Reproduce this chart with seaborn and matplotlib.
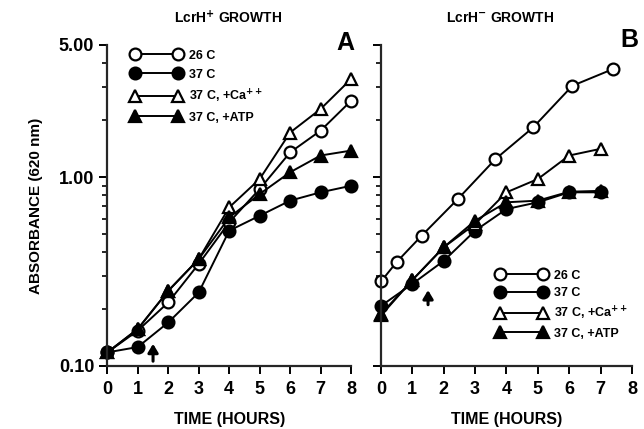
"""Curvas de crecimiento LcrH+ / LcrH- (absorbancia a 620 nm, escala log)."""

import matplotlib.pyplot as plt
from matplotlib.ticker import FixedLocator, NullFormatter
import seaborn as sns

# --- datos -----------------------------------------------------------------
hours_a = [0, 1, 2, 3, 4, 5, 6, 7, 8]
a_26c = [0.118, 0.154, 0.217, 0.347, 0.576, 0.864, 1.35, 1.76, 2.53]
a_37c = [0.118, 0.126, 0.170, 0.245, 0.520, 0.624, 0.750, 0.830, 0.899]
a_37c_ca = [0.118, 0.157, 0.250, 0.368, 0.691, 0.976, 1.72, 2.29, 3.30]
a_37c_atp = [0.118, 0.157, 0.250, 0.368, 0.611, 0.813, 1.06, 1.30, 1.38]

hours_b_26c = [0, 0.5, 1.3, 2.45, 3.65, 4.85, 6.1, 7.4]
b_26c = [0.280, 0.355, 0.490, 0.765, 1.245, 1.83, 3.04, 3.73]
hours_b = [0, 1, 2, 3, 4, 5, 6, 7]
b_37c = [0.208, 0.272, 0.360, 0.520, 0.677, 0.735, 0.830, 0.830]
b_37c_ca = [0.188, 0.285, 0.425, 0.564, 0.830, 0.976, 1.30, 1.41]
b_37c_atp = [0.185, 0.285, 0.425, 0.587, 0.735, 0.750, 0.836, 0.845]

series_labels = ["26 C", "37 C", "37 C, +Ca$^{++}$", "37 C, +ATP"]
y_ticks = [0.1, 1.0, 5.0]
y_ticklabels = ["0.10", "1.00", "5.00"]
y_minor = [0.2, 0.3, 0.4, 0.5, 0.6, 0.7, 0.8, 0.9, 2, 3, 4]
x_ticks = [0, 1, 2, 3, 4, 5, 6, 7, 8]
arrow_time = 1.5

# --- estilo ----------------------------------------------------------------
sns.set_theme(style="ticks")
plt.rcParams.update(
    {
        "font.family": ["Liberation Sans", "DejaVu Sans"],
        "font.weight": "bold",
        "axes.linewidth": 1.6,
        "axes.spines.top": False,
        "axes.spines.right": False,
        "xtick.major.width": 1.4,
        "ytick.major.width": 1.4,
        "ytick.minor.width": 1.2,
        "text.color": "black",
        "axes.labelcolor": "black",
        "xtick.color": "black",
        "ytick.color": "black",
        "mathtext.default": "bf",
    }
)

MARKERS = [
    dict(marker="o", markerfacecolor="white"),
    dict(marker="o", markerfacecolor="black"),
    dict(marker="^", markerfacecolor="white"),
    dict(marker="^", markerfacecolor="black"),
]


def draw_panel(ax, xs_list, ys_list):
    for xs, ys, style, label in zip(xs_list, ys_list, MARKERS, series_labels):
        size = 8.5 if style["marker"] == "o" else 9
        sns.lineplot(
            x=xs,
            y=ys,
            ax=ax,
            color="black",
            linewidth=1.4,
            markersize=size,
            markeredgecolor="black",
            markeredgewidth=1.6,
            label=label,
            clip_on=False,
            **style,
        )
    ax.set_yscale("log")
    ax.set_ylim(0.1, 5.0)
    ax.set_xlim(0, 8)
    ax.set_xticks(x_ticks)
    ax.yaxis.set_major_locator(FixedLocator(y_ticks))
    ax.yaxis.set_minor_locator(FixedLocator(y_minor))
    ax.yaxis.set_minor_formatter(NullFormatter())
    ax.tick_params(axis="both", which="major", labelsize=13, length=6)
    ax.tick_params(axis="y", which="minor", length=3.5)
    ax.tick_params(axis="x", pad=5)
    ax.set_xlabel("TIME (HOURS)", fontsize=11.5, fontweight="bold", labelpad=10)


fig = plt.figure(figsize=(6.44, 4.29), dpi=100)
ax_a = fig.add_axes([0.1667, 0.1469, 0.3784, 0.7483])
ax_b = fig.add_axes([0.5916, 0.1469, 0.3897, 0.7483])

draw_panel(ax_a, [hours_a] * 4, [a_26c, a_37c, a_37c_ca, a_37c_atp])
draw_panel(
    ax_b,
    [hours_b_26c, hours_b, hours_b, hours_b],
    [b_26c, b_37c, b_37c_ca, b_37c_atp],
)

ax_a.set_yticklabels(y_ticklabels)
ax_b.set_yticklabels([])
ax_a.set_ylabel("ABSORBANCE (620 nm)", fontsize=11, fontweight="bold")
ax_a.yaxis.set_label_coords(-0.265, 0.5)

legend_kw = dict(
    numpoints=2,
    handlelength=4.0,
    handletextpad=0.6,
    frameon=False,
    borderpad=0,
    borderaxespad=0,
    prop={"size": 9, "weight": "bold"},
)
ax_a.legend(loc="upper left", bbox_to_anchor=(0.1, 0.985), labelspacing=0.55, **legend_kw)
ax_b.legend(loc="upper left", bbox_to_anchor=(0.46, 0.3), labelspacing=0.45, **legend_kw)

# flechas (momento de la adición)
arrow_props = dict(arrowstyle="-|>,head_length=0.5,head_width=0.3", color="black",
                   lw=2.2, mutation_scale=10, shrinkA=0, shrinkB=0)
ax_a.annotate("", xy=(arrow_time, 0.131), xytext=(arrow_time, 0.106), arrowprops=arrow_props)
ax_b.annotate("", xy=(arrow_time, 0.252), xytext=(arrow_time, 0.211), arrowprops=arrow_props)

fig.text(228 / 644, 1 - 18 / 429, "LcrH$^{+}$ GROWTH", ha="center", va="center",
         fontsize=10, fontweight="bold")
fig.text(500 / 644, 1 - 18 / 429, "LcrH$^{-}$ GROWTH", ha="center", va="center",
         fontsize=10, fontweight="bold")
fig.text(345 / 644, 1 - 43 / 429, "A", ha="center", va="center", fontsize=18, fontweight="bold")
fig.text(629 / 644, 1 - 40 / 429, "B", ha="center", va="center", fontsize=18, fontweight="bold")

fig.savefig("out.png", dpi=100)
